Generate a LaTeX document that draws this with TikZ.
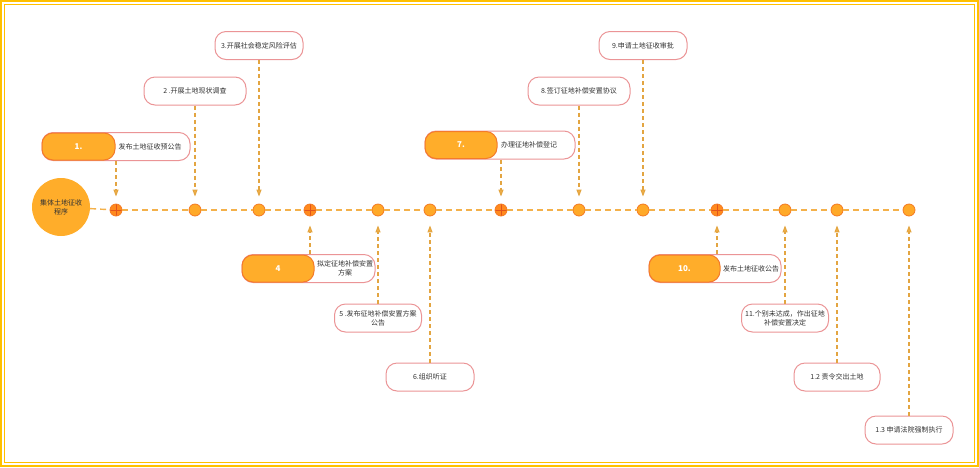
\documentclass[tikz,border=0pt]{standalone}
\usepackage{fontspec}
\setmainfont{Noto Sans CJK SC}
\usetikzlibrary{arrows.meta}

\definecolor{framegold}{HTML}{FFC000}
\definecolor{boxpink}{HTML}{EB9496}
\definecolor{tabfill}{HTML}{FFAD2A}
\definecolor{tabedge}{HTML}{F47B2A}
\definecolor{ptfill}{HTML}{FFA928}
\definecolor{ptedge}{HTML}{F47A22}
\definecolor{crossfill}{HTML}{FF8A1E}
\definecolor{crossline}{HTML}{E2541C}
\definecolor{linkgold}{HTML}{E3A541}
\definecolor{linegold}{HTML}{F4B14A}
\definecolor{txtgray}{HTML}{333333}

\begin{document}
\begin{tikzpicture}[
			x=1pt, y=-1pt,
			every node/.style={font=\fontsize{7}{9}\selectfont, text=txtgray},
			frame/.style={draw=framegold, line width=1.5pt},
			stepbox/.style={draw=boxpink, line width=1pt, fill=white, rounded corners=11pt,
				minimum height=28pt, align=center, inner sep=2pt},
			tab/.style={draw=tabedge, line width=1pt, fill=tabfill, rounded corners=11pt,
				minimum height=27pt, inner sep=0pt, text=white,
				font=\fontsize{8}{9}\selectfont\bfseries},
			point/.style={circle, draw=ptedge, line width=0.8pt, fill=ptfill,
				minimum size=12pt, inner sep=0pt},
			crosspt/.style={point, fill=crossfill, path picture={
				\draw[crossline, line width=0.8pt]
				(path picture bounding box.north) -- (path picture bounding box.south)
				(path picture bounding box.west) -- (path picture bounding box.east);}},
			timeline/.style={draw=linegold, line width=1.4pt, dash pattern=on 6pt off 4pt},
			link/.style={draw=linkgold, line width=1.1pt, dash pattern=on 4pt off 3pt,
				-{Triangle[length=7pt,width=5pt,fill=linegold]}}
		]
		\useasboundingbox (0,0) rectangle (979,467);

		% Frame
		\draw[frame] (1,1) rectangle (978,466);
		\draw[frame] (4.5,4.5) rectangle (974.5,462.5);

		% Nodes
		\node[circle, fill=tabfill, minimum size=58pt, align=center] (start) at (61,207) {集体土地征收\\程序};
		\node[crosspt] (t1) at (116,210) {};
		\node[point] (t2) at (195,210) {};
		\node[point] (t3) at (259,210) {};
		\node[crosspt] (t4) at (310,210) {};
		\node[point] (t5) at (378,210) {};
		\node[point] (t6) at (430,210) {};
		\node[crosspt] (t7) at (501,210) {};
		\node[point] (t8) at (579,210) {};
		\node[point] (t9) at (643,210) {};
		\node[crosspt] (t10) at (717,210) {};
		\node[point] (t11) at (785,210) {};
		\node[point] (t12) at (837,210) {};
		\node[point] (t13) at (909,210) {};

		% Timeline
		\foreach \a/\b in {start/t1, t1/t2, t2/t3, t3/t4, t4/t5, t5/t6, t6/t7,
			t7/t8, t8/t9, t9/t10, t10/t11, t11/t12, t12/t13}
			\draw[timeline] (\a) -- (\b);

		% Labels above
		\node[stepbox, minimum width=148pt] (b1) at (116,146.5) {};
		\node[tab, minimum width=73pt, anchor=west] (k1) at (b1.west) {1.};
		\node (l1) at (150,146.5) {发布土地征收预公告};
		\node[stepbox, minimum width=102pt] (b2) at (195,91) {2 .开展土地现状调查};
		\node[stepbox, minimum width=88pt] (b3) at (259,45.5) {3.开展社会稳定风险评估};
		\node[stepbox, minimum width=150pt] (b7) at (500,145) {};
		\node[tab, minimum width=72pt, anchor=west] (k7) at (b7.west) {7.};
		\node (l7) at (529,145) {办理征地补偿登记};
		\node[stepbox, minimum width=102pt] (b8) at (579,91) {8.签订征地补偿安置协议};
		\node[stepbox, minimum width=88pt] (b9) at (643,45.5) {9.申请土地征收审批};

		% Labels below
		\node[stepbox, minimum width=133pt] (b4) at (308.5,268.5) {};
		\node[tab, minimum width=72pt, anchor=west] (k4) at (b4.west) {4};
		\node[align=center] (l4) at (345,268.5) {拟定征地补偿安置\\方案};
		\node[stepbox, minimum width=87pt] (b5) at (378,318) {5 .发布征地补偿安置方案\\公告};
		\node[stepbox, minimum width=88pt] (b6) at (430,377) {6.组织听证};
		\node[stepbox, minimum width=132pt] (b10) at (715,268.5) {};
		\node[tab, minimum width=71pt, anchor=west] (k10) at (b10.west) {10.};
		\node (l10) at (751,268.5) {发布土地征收公告};
		\node[stepbox, minimum width=87pt] (b11) at (785,318) {11.个别未达成，作出征地\\补偿安置决定};
		\node[stepbox, minimum width=86pt] (b12) at (837,377) {1.2 责令交出土地};
		\node[stepbox, minimum width=88pt] (b13) at (909,430) {1.3 申请法院强制执行};

		% Connections
		\draw[link, shorten >=7pt] (t1 |- b1.south) -- (t1);
		\draw[link, shorten >=7pt] (b2) -- (t2);
		\draw[link, shorten >=7pt] (b3) -- (t3);
		\draw[link, shorten >=9pt] (t4 |- b4.north) -- (t4);
		\draw[link, shorten >=9pt] (b5) -- (t5);
		\draw[link, shorten >=9pt] (b6) -- (t6);
		\draw[link, shorten >=7pt] (t7 |- b7.south) -- (t7);
		\draw[link, shorten >=7pt] (b8) -- (t8);
		\draw[link, shorten >=7pt] (b9) -- (t9);
		\draw[link, shorten >=9pt] (t10 |- b10.north) -- (t10);
		\draw[link, shorten >=9pt] (b11) -- (t11);
		\draw[link, shorten >=9pt] (b12) -- (t12);
		\draw[link, shorten >=9pt] (b13) -- (t13);
	\end{tikzpicture}
\end{document}
